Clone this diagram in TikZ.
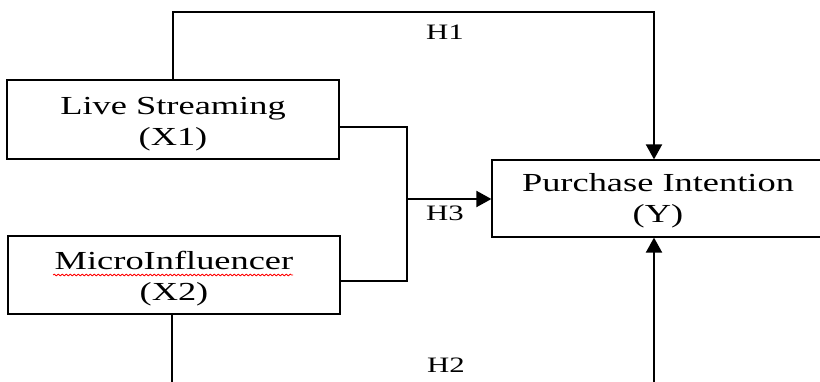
\documentclass[tikz,border=0pt]{standalone}
\usepackage{fontspec}
\setmainfont{Liberation Serif}[FakeStretch=1.4]
\usetikzlibrary{arrows.meta,decorations.pathmorphing}
\begin{document}
\begin{tikzpicture}[x=1pt,y=-1pt,
  box/.style={draw,line width=1.2pt,minimum width=332pt,minimum height=79pt,inner sep=0pt},
  boxtext/.style={inner sep=0pt,align=center,font=\fontsize{26}{31}\selectfont},
  link/.style={line width=2pt},
  arrow/.style={link,-{Triangle[length=15pt,width=16pt]}},
  hyp/.style={font=\fontsize{22}{26}\selectfont,inner sep=0pt},
  spell/.style={red,line width=0.8pt,decorate,
                decoration={snake,amplitude=0.9pt,segment length=4pt}}]
\clip (0,0) rectangle (820,382);

% variables
\node[box] (ls) at (173,119.5) {};
\node[boxtext] (lst) at (173,124.5) {Live Streaming\\(X1)};
\node[box,minimum height=78pt] (mi) at (174,275) {};
\node[boxtext] (mit) at (174,279) {MicroInfluencer\\(X2)};
\node[box,minimum height=77pt] (y) at (658,198.5) {};
\node[boxtext] (yt) at (658,200.5) {Purchase Intention\\(Y)};

% spell-check squiggle under the second label
\draw[spell] ([shift={(-121,-4)}]mit.center) -- ++(240,0);

% H1: Live Streaming -> Purchase Intention
\coordinate (hx) at (654,12);
\draw[arrow] (ls.north) |- (hx) -- (hx |- y.north);

% H3: joint effect
\coordinate (jt) at (407,127);
\coordinate (jb) at (407,281);
\coordinate (jm) at (407,199);
\draw[link] (ls.east |- jt) -- (jt) -- (jb) -- (mi.east |- jb);
\draw[arrow] (jm) -- (y.west |- jm);

% H2: MicroInfluencer -> Purchase Intention (runs below the frame)
\coordinate (b1) at (172,400);
\coordinate (b2) at (654,400);
\draw[arrow] (mi.south -| b1) -- (b1) -- (b2) -- (b2 |- y.south);

% hypothesis labels
\node[hyp] (h1) at (445,32) {H1};
\node[hyp] (h3) at (445,213) {H3};
\node[hyp] (h2) at (446,365) {H2};
\end{tikzpicture}
\end{document}
